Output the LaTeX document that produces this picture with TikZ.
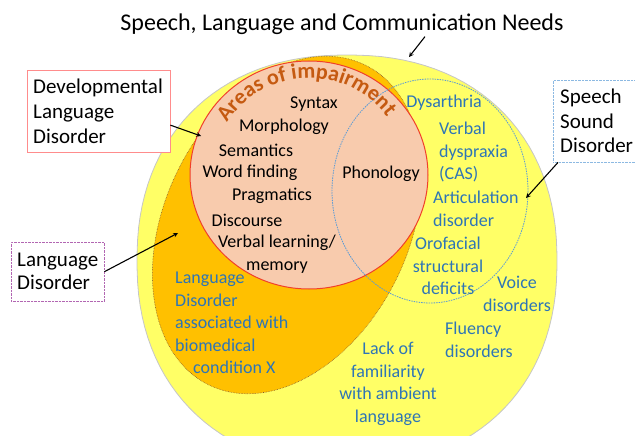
\documentclass[tikz,border=0pt]{standalone}
\usepackage{fontspec}
\setmainfont{Carlito}
\usetikzlibrary{shapes,arrows,positioning,decorations.text}

\definecolor{slcnyellow}{HTML}{FFFF66}
\definecolor{ldorange}{HTML}{FFC000}
\definecolor{dldpeach}{HTML}{F8CBAD}
\definecolor{dldred}{HTML}{F0402A}
\definecolor{areabrown}{HTML}{C55A11}
\definecolor{otherblue}{HTML}{2E75B6}
\definecolor{ssdblue}{HTML}{5B9BD5}

\begin{document}
\begin{tikzpicture}[
    x=1pt, y=-1pt,
    labelbox/.style={rectangle, draw, fill=white, align=left, text width=#1, inner xsep=6pt, anchor=north west, font=\fontsize{21}{25}\selectfont},
    impair/.style={inner sep=0pt, align=center, font=\fontsize{18}{22.5}\selectfont},
    other/.style={inner sep=0pt, text=otherblue, font=\fontsize{18}{22.5}\selectfont},
    arrow/.style={line width=1.1pt, ->, >=stealth}
]
\clip (0,0) rectangle (635,436);
% Areas
\coordinate (ldc) at (287,225);
\coordinate (dldc) at (309,175);
\coordinate (ssdc) at (430,191);
\fill[slcnyellow, draw=gray!45, line width=0.8pt] plot[domain=1.5:361.5, samples=121, variable=\t]
    ({347+210*sign(cos(\t))*abs(cos(\t))^0.9}, {261+206*sign(sin(\t))*abs(sin(\t))^0.9}) -- cycle;
\draw[fill=ldorange, draw=brown!70!black, densely dotted, line width=0.6pt, rotate around={64:(ldc)}] (ldc) ellipse [x radius=178, y radius=122];
\draw[fill=dldpeach, draw=dldred, line width=1pt] (dldc) ellipse [x radius=119, y radius=114];
\draw[ssdblue, dash pattern=on 1.5pt off 1pt, line width=0.8pt] (ssdc) ellipse [x radius=98, y radius=112];
% Curved heading
\path[decorate, decoration={text along path, text align=center,
    text={|\fontsize{22}{22}\selectfont\bfseries\color{areabrown}|Areas of impairment}}]
    (dldc) ++(206:97) arc [start angle=206, end angle=330, radius=97];
% Areas of impairment
\node[impair] (syntax) at (314,104) {Syntax};
\node[impair] (morph) at (284,127) {Morphology};
\node[impair] (seman) at (256,150) {Semantics};
\node[impair] (wordf) at (250,173) {Word finding};
\node[impair] (pragm) at (272,196) {Pragmatics};
\node[impair] (disco) at (247,220) {Discourse};
\node[impair] (verbl) at (277,254) {Verbal learning/\\memory};
\node[impair] (phono) at (381,174) {Phonology};
% Other needs
\node[other] (dysar) at (444,103) {Dysarthria};
\node[other, anchor=west, align=left] (dyspr) at (439,152) {Verbal\\dyspraxia\\(CAS)};
\node[other, anchor=west, align=left] (artic) at (433,209) {Articulation\\disorder};
\node[other, align=center] (orofa) at (448,266) {Orofacial\\structural\\deficits};
\node[other, align=center] (voice) at (517,294) {Voice\\disorders};
\node[other, anchor=west, align=left] (fluen) at (445,340) {Fluency\\disorders};
\node[other, align=center] (lackf) at (388,384) {Lack of\\familiarity\\with ambient\\language};
\node[other, anchor=west, align=left] (biomd) at (175,323) {Language\\Disorder\\associated with\\biomedical\\\hspace*{1em}condition X};
% Labels
\node[inner sep=2pt, font=\fontsize{24}{28}\selectfont] (title) at (342,24) {Speech, Language and Communication Needs};
\node[labelbox=131pt, draw=red!45, minimum height=82pt] (dldbox) at (27,70) {Developmental\\Language\\Disorder};
\node[labelbox=81pt, draw=violet!60, densely dotted, minimum height=59pt, font=\fontsize{21}{23}\selectfont] (ldbox) at (11,242) {Language\\Disorder};
\node[labelbox=68pt, draw=ssdblue!70, densely dotted, minimum height=82pt, inner xsep=7pt, font=\fontsize{21}{24.5}\selectfont] (ssdbox) at (553,80) {Speech\\Sound\\Disorder};
% Arrows
\coordinate (slcntip) at (409,57);
\coordinate (dldtip) at (201,136);
\coordinate (ldtip) at (178,233);
\coordinate (ssdtip) at (526,198);
\draw[arrow] ([xshift=83pt]title.south) -- (slcntip);
\draw[arrow] (dldbox.-11) -- (dldtip);
\draw[arrow] (ldbox.east) -- (ldtip);
\draw[arrow] ([xshift=5pt]ssdbox.south west) -- (ssdtip);
\end{tikzpicture}
\end{document}
